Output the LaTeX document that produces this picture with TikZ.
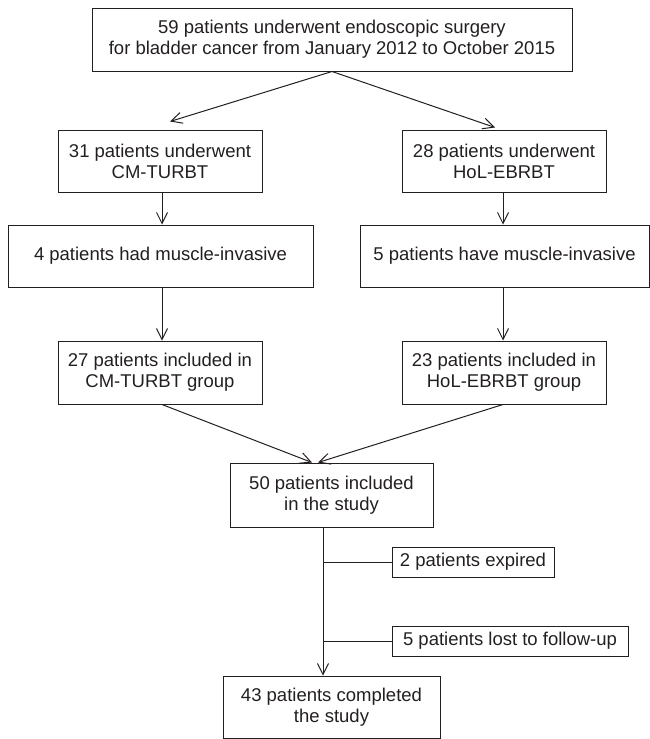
\documentclass[tikz,border=0pt]{standalone}
\usepackage{fontspec}
\setmainfont{Liberation Sans}
\usepackage{tikz}
\usetikzlibrary{arrows.meta,calc,positioning}
\definecolor{ink}{RGB}{35,31,32}

\begin{document}
\begin{tikzpicture}[x=1pt,y=1pt,
	line width=1pt,draw=ink,text=ink,
	box/.style={draw,rectangle,align=center,inner sep=0pt,minimum height=62pt,font=\fontsize{18.5}{21}\selectfont},
	small/.style={box,minimum height=30pt},
	arr/.style={-{Straight Barb[length=11pt,width=11pt]}}]
\useasboundingbox (0,0) rectangle (650,-739);

\node[box,minimum width=480pt,minimum height=63pt] (all) at (332,-39.5) {59 patients underwent endoscopic surgery\\for bladder cancer from January 2012 to October 2015};
\node[box,minimum width=204pt] (cm) at (160,-161) {31 patients underwent\\CM-TURBT};
\node[box,minimum width=204pt] (hol) at (504,-161) {28 patients underwent\\HoL-EBRBT};
\node[box,minimum width=305pt] (cmMI) at (160.5,-256) {4 patients had muscle-invasive};
\node[box,minimum width=289pt] (holMI) at (504.5,-256) {5 patients have muscle-invasive};
\node[box,minimum width=204pt,minimum height=63pt] (cmGrp) at (160,-372.5) {27 patients included in\\CM-TURBT group};
\node[box,minimum width=204pt,minimum height=63pt] (holGrp) at (504,-372.5) {23 patients included in\\HoL-EBRBT group};
\node[box,minimum width=203pt,minimum height=64pt] (study) at (331.5,-495) {50 patients included\\in the study};
\node[small,minimum width=162pt] (expired) at (473,-562) {2 patients expired};
\node[small,minimum width=236pt] (lost) at (510,-641) {5 patients lost to follow-up};
\node[box,minimum width=217pt] (done) at (331.5,-707) {43 patients completed\\the study};

\draw[arr] (all.south) -- ([xshift=10pt,yshift=8pt]cm.north);
\draw[arr] (all.south) -- ([xshift=-9pt,yshift=2pt]hol.north);
\draw[arr] ([xshift=2pt]cm.south) -- ([xshift=1.5pt]cmMI.north);
\draw[arr] ([xshift=-1pt]hol.south) -- ([xshift=-1.5pt]holMI.north);
\draw[arr] ([xshift=1.5pt]cmMI.south) -- ([xshift=2pt]cmGrp.north);
\draw[arr] ([xshift=-1.5pt]holMI.south) -- ([xshift=-1pt]holGrp.north);
\draw[arr] ([xshift=2pt]cmGrp.south) -- ([xshift=-19.5pt]study.north);
\draw[arr] ([xshift=-1pt]holGrp.south) -- ([xshift=-13.5pt]study.north);
\draw[arr] ([xshift=-8.5pt]study.south) coordinate (trunk) -- (trunk |- done.north);
\draw (expired.west) -- (expired.west -| trunk);
\draw (lost.west) -- (lost.west -| trunk);

\end{tikzpicture}
\end{document}
